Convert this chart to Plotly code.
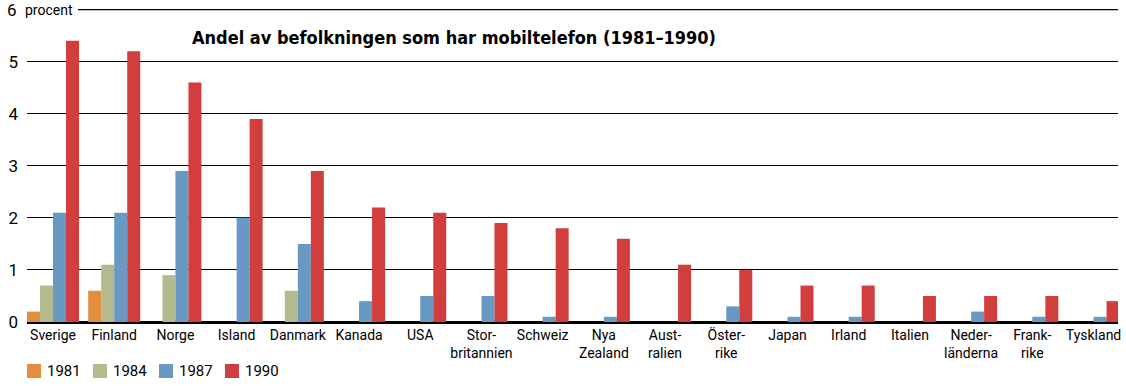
import plotly.graph_objects as go

countries = ["Sverige", "Finland", "Norge", "Island", "Danmark", "Kanada", "USA",
             "Stor-<br>britannien", "Schweiz", "Nya<br>Zealand", "Aust-<br>ralien",
             "Öster-<br>rike", "Japan", "Irland", "Italien", "Neder-<br>länderna",
             "Frank-<br>rike", "Tyskland"]
years = ["1981", "1984", "1987", "1990"]
v1981 = [0.2, 0.6, None, None, None, None, None, None, None, None, None, None, None, None, None, None, None, None]
v1984 = [0.7, 1.1, 0.9, None, 0.6, None, None, None, None, None, None, None, None, None, None, None, None, None]
v1987 = [2.1, 2.1, 2.9, 2.0, 1.5, 0.4, 0.5, 0.5, 0.1, 0.1, None, 0.3, 0.1, 0.1, None, 0.2, 0.1, 0.1]
v1990 = [5.4, 5.2, 4.6, 3.9, 2.9, 2.2, 2.1, 1.9, 1.8, 1.6, 1.1, 1.0, 0.7, 0.7, 0.5, 0.5, 0.5, 0.4]
y_ticks = [0, 1, 2, 3, 4, 5]
y_top = 6
unit_label = "procent"
colors = ["#E48D3C", "#B5B98E", "#6899C2", "#D23E3E"]
title = "Andel av befolkningen som har mobiltelefon (1981–1990)"

fig = go.Figure()
for yr, vals, c in zip(years, [v1981, v1984, v1987, v1990], colors):
    fig.add_trace(go.Bar(x=list(range(len(countries))), y=vals, name=yr,
                         marker=dict(color=c, line=dict(width=0))))

# plot area in pixels: x 27..1118, y 8..322
X0, X1, Y0, Y1 = 27.0, 1118.0, 8.0, 322.0
PW, PH = X1 - X0, Y1 - Y0


def px(x):
    return (x - X0) / PW


def py(y):
    return (Y1 - y) / PH


shapes = [
    # top gridline, starting after the unit label
    dict(type="line", xref="paper", yref="y", x0=px(78), x1=1, y0=y_top, y1=y_top,
         line=dict(color="black", width=1.3), layer="below"),
]
annotations = [
    dict(text=str(y_top), xref="paper", yref="y", x=px(19), y=y_top, xanchor="right",
         yanchor="middle", showarrow=False, font=dict(size=17)),
    dict(text=unit_label, xref="paper", yref="y", x=px(23), y=y_top, xanchor="left",
         yanchor="middle", showarrow=False, font=dict(size=14)),
    dict(text="<b>" + title + "</b>", xref="paper", yref="paper",
         x=px(190), y=py(38), xanchor="left", yanchor="middle",
         showarrow=False, font=dict(family="DejaVu Sans Condensed", size=18)),
]
for i, (yr, c) in enumerate(zip(years, colors)):
    x0 = 27 + 66 * i
    shapes.append(dict(type="rect", xref="paper", yref="paper",
                       x0=px(x0), x1=px(x0 + 14), y0=py(364), y1=py(378),
                       fillcolor=c, line=dict(width=0)))
    annotations.append(dict(text=yr, xref="paper", yref="paper",
                            x=px(x0 + 18), y=py(371),
                            xanchor="left", yanchor="middle", showarrow=False,
                            font=dict(size=15)))

fig.update_layout(
    width=1126, height=386,
    margin=dict(l=27, r=8, t=8, b=64),
    paper_bgcolor="white", plot_bgcolor="white",
    barmode="group", bargap=0.15, bargroupgap=0,
    font=dict(family="Roboto", size=14, color="black"),
    showlegend=False,
    xaxis=dict(range=[-0.425, 17.40], tickmode="array", automargin=False,
               tickvals=list(range(len(countries))), ticktext=countries,
               showgrid=False, showline=False, ticks="", zeroline=False,
               tickfont=dict(size=14), ticklabelstandoff=3),
    yaxis=dict(range=[0, 6.03], tickvals=y_ticks, automargin=False,
               showgrid=True, gridcolor="black", gridwidth=1.3,
               zeroline=True, zerolinecolor="black", zerolinewidth=3,
               showline=False, ticks="", tickfont=dict(size=17), ticklabelstandoff=8),
    shapes=shapes,
    annotations=annotations,
)
fig.write_html("out.html", config={"displayModeBar": False},
               post_script="document.body.style.margin='0';")
